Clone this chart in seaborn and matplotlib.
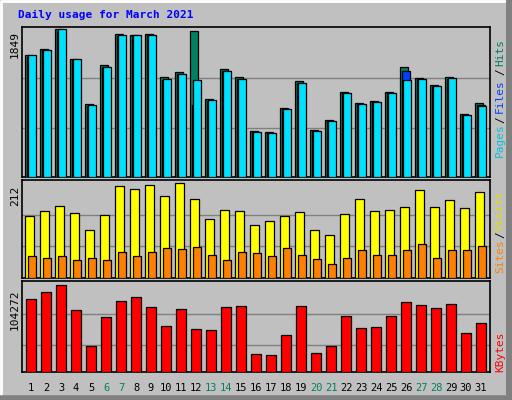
import numpy as np
import pandas as pd
import matplotlib
matplotlib.use("Agg")
import matplotlib.pyplot as plt
import seaborn as sns

# Daily values (March 2021)
days = list(range(1, 32))
hits = [1522, 1606, 1849, 1472, 914, 1396, 1786, 1773, 1795, 1245, 1308, 1824, 977, 1346, 1245, 579,
        566, 864, 1195, 591, 717, 1069, 931, 956, 1069, 1371, 1233, 1157, 1245, 789, 931]
files = [1500, 1585, 1830, 1465, 890, 1375, 1770, 1765, 1780, 1210, 1290, 906, 950, 1325, 1220, 560,
         545, 845, 1180, 570, 700, 1050, 915, 940, 1050, 1321, 1220, 1140, 1230, 770, 900]
pages = [1522, 1590, 1849, 1472, 900, 1380, 1775, 1773, 1780, 1225, 1290, 1216, 965, 1330, 1220, 560,
         550, 845, 1175, 570, 700, 1055, 915, 940, 1055, 1208, 1220, 1140, 1235, 780, 893]
visits = [138, 150, 161, 145, 108, 140, 205, 198, 207, 182, 212, 177, 131, 152, 150, 119,
          126, 138, 147, 106, 96, 143, 177, 150, 152, 159, 196, 159, 173, 156, 191]
sites = [50, 45, 48, 39, 45, 39, 57, 48, 57, 66, 64, 69, 52, 39, 57, 55,
         48, 66, 52, 43, 32, 45, 62, 52, 52, 62, 76, 45, 62, 62, 71]
kbytes = [87425, 95850, 104272, 74194, 30880, 65772, 85022, 89834, 77803, 54943, 75397, 51334, 50131,
          77803, 79006, 21255, 20052, 44115, 79006, 22458, 30880, 66975, 52537, 53740, 66975, 83819,
          80209, 76600, 81412, 46521, 58553]
weekends = [6, 7, 13, 14, 20, 21, 27, 28]

bg = '#c0c0c0'
fig = plt.figure(figsize=(5.12, 4.0), dpi=100)
fig.patch.set_facecolor(bg)
W, H = 512, 400

# window-like frame: white top/left, dark bottom/right
fig.add_artist(plt.Line2D([1 / W, 1 / W, 1 - 1 / W], [0, 1 - 1 / H, 1 - 1 / H], color='white', lw=2))
fig.add_artist(plt.Line2D([1 - 3 / W, 1 - 3 / W], [0, 1], color='#808080', lw=5))
fig.add_artist(plt.Line2D([0, 1], [2 / H, 2 / H], color='#808080', lw=4))


def panel(y0, y1):
    # pixel box -> axes
    ax = fig.add_axes([22 / W, 1 - y1 / H, (490 - 22) / W, (y1 - y0) / H])
    ax.set_facecolor(bg)
    for s in ax.spines.values():
        s.set_color('black')
        s.set_linewidth(1.2)
    return ax


def bars(ax, x, y, color, width):
    df = pd.DataFrame({'x': x, 'y': y})
    sns.barplot(data=df, x='x', y='y', native_scale=True, color=color, width=width,
                edgecolor='black', linewidth=0.9, saturation=1, ax=ax, zorder=3)


def finish(ax):
    ax.set_xlim(0.4, 31.6)
    ax.set_xticks([]); ax.set_yticks([]); ax.set_xlabel(''); ax.set_ylabel('')


d = np.array(days)

# Hits / Files / Pages
ax1 = panel(27, 177)
ax1.set_ylim(0, 1849 * 1.015)
for g in (1849 / 3, 1849 * 2 / 3):
    ax1.axhline(g, color='#808080', lw=1, zorder=1)
bars(ax1, d - 0.12, hits, '#008060', 0.55)
bars(ax1, d - 0.02, files, '#0040ff', 0.55)
bars(ax1, d + 0.08, pages, '#00e0ff', 0.55)
finish(ax1)

# Visits / Sites
ax2 = panel(180, 278)
ax2.set_ylim(0, 212 * 1.03)
for g in (212 / 3, 212 * 2 / 3):
    ax2.axhline(g, color='#808080', lw=1, zorder=1)
bars(ax2, d - 0.1, visits, '#ffff00', 0.55)
bars(ax2, d + 0.08, sites, '#ff8000', 0.5)
finish(ax2)

# KBytes
ax3 = panel(281, 372)
ax3.set_ylim(0, 104272 * 1.04)
for g in (104272 / 3.3, 104272 * 2 / 3):
    ax3.axhline(g, color='#808080', lw=1, zorder=1)
bars(ax3, d, kbytes, '#ff0000', 0.65)
finish(ax3)

# Day labels
for day in days:
    c = '#008060' if day in weekends else 'black'
    x = 22 + (day - 0.4) / 31.2 * 468
    fig.text(x / W, 1 - 388 / H, str(day), color=c, fontsize=7.5, ha='center', va='center',
             family='DejaVu Sans Mono')

# Title and side labels
fig.text(18 / W, 1 - 15 / H, 'Daily usage for March 2021', color='#0000ff', fontsize=8,
         fontweight='bold', family='DejaVu Sans Mono', va='center')
side = dict(fontsize=8, family='DejaVu Sans Mono', rotation=90, ha='center', va='center')
fig.text(15 / W, 1 - 45 / H, '1849', **side)
fig.text(15 / W, 1 - 196 / H, '212', **side)
fig.text(15 / W, 1 - 310 / H, '104272', **side)

x_r = 500 / W
fig.text(x_r, 1 - 140 / H, 'Pages', color='#00c0e0', **side)
fig.text(x_r, 1 - 120 / H, '/', color='black', **side)
fig.text(x_r, 1 - 96 / H, 'Files', color='#0040ff', **side)
fig.text(x_r, 1 - 72 / H, '/', color='black', **side)
fig.text(x_r, 1 - 52 / H, 'Hits', color='#008060', **side)

fig.text(x_r, 1 - 256 / H, 'Sites', color='#ff8000', **side)
fig.text(x_r, 1 - 235 / H, '/', color='black', **side)
fig.text(x_r, 1 - 211 / H, 'Visits', color='#e0e000', **side)
fig.text(x_r, 1 - 352 / H, 'KBytes', color='#ff0000', **side)

fig.savefig('out.png', dpi=100, facecolor=bg)
